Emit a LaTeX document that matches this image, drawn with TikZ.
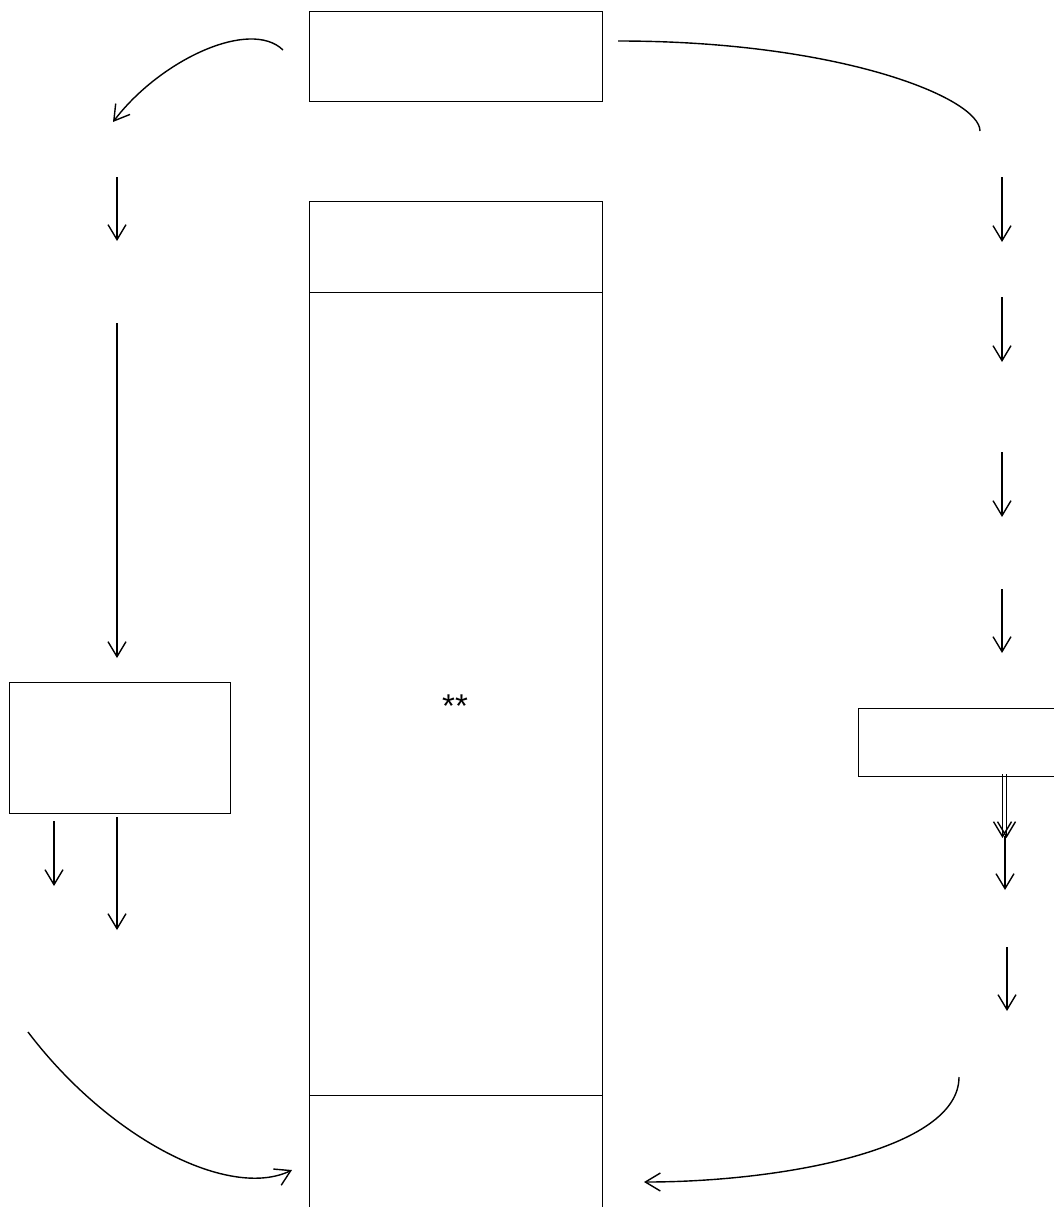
\documentclass[tikz,border=0pt]{standalone}
\usepackage{fontspec}
\setmainfont{Liberation Sans}
\usetikzlibrary{arrows.meta}
\begin{document}
\begin{tikzpicture}[x=1pt,y=-1pt,
  box/.style={draw,line width=1.4pt,rectangle,inner sep=0pt,anchor=north west},
  conn/.style={line width=1.4pt},
  arr/.style={conn,-{Straight Barb[length=15pt,width=18pt,line width=1.4pt]}}]
\useasboundingbox[fill=white] (0,0) rectangle (1053,1207);
% boxes
\node[box,minimum width=293pt,minimum height=90pt] (top) at (309,11) {};
\node[box,minimum width=293pt,minimum height=91pt] (ctop) at (309,201) {};
\node[box,minimum width=293pt,minimum height=803pt] (cmid) at (309,292) {};
\node[box,minimum width=293pt,minimum height=130pt] (cbot) at (309,1095) {};
\node[box,minimum width=221pt,minimum height=131pt] (lbox) at (9,682) {};
\node[box,minimum width=215pt,minimum height=68pt] (rbox) at (858,708) {};
\node[font=\fontsize{33}{36}\selectfont] (star) at (455,706) {**};
% free ends
\coordinate (tl0) at (283,50);  \coordinate (tl1) at (113,122);
\coordinate (tr0) at (618,41);  \coordinate (tr1) at (980,131);
\coordinate (l1a) at (117,177); \coordinate (l1b) at (117,241);
\coordinate (l2a) at (117,323); \coordinate (l2b) at (117,658);
\coordinate (l3a) at (54,821);  \coordinate (l3b) at (54,886);
\coordinate (l4a) at (117,817); \coordinate (l4b) at (117,930);
\coordinate (bl0) at (28,1032); \coordinate (bl1) at (292,1170);
\coordinate (r1a) at (1002,177); \coordinate (r1b) at (1002,242);
\coordinate (r2a) at (1002,297); \coordinate (r2b) at (1002,362);
\coordinate (r3a) at (1002,452); \coordinate (r3b) at (1002,517);
\coordinate (r4a) at (1002,589); \coordinate (r4b) at (1002,653);
\coordinate (r5a) at (1002.5,774); \coordinate (r5b) at (1002.5,838);
\coordinate (r6a) at (1006.5,774); \coordinate (r6b) at (1006.5,838);
\coordinate (r7a) at (1005,836); \coordinate (r7b) at (1005,890);
\coordinate (r8a) at (1007,947); \coordinate (r8b) at (1007,1011);
\coordinate (br0) at (959,1077); \coordinate (br1) at (644,1182);
% connectors
\draw[arr] (tl0) .. controls (250,18) and (160,60) .. (tl1);
\draw[conn] (tr0) .. controls (840,41) and (980,98) .. (tr1);
\draw[arr] (l1a) -- (l1b);
\draw[arr] (l2a) -- (l2b);
\draw[arr] (l3a) -- (l3b);
\draw[arr] (l4a) -- (l4b);
\draw[arr] (bl0) .. controls (110,1140) and (230,1200) .. (bl1);
\draw[arr] (r1a) -- (r1b);
\draw[arr] (r2a) -- (r2b);
\draw[arr] (r3a) -- (r3b);
\draw[arr] (r4a) -- (r4b);
\draw[arr] (r5a) -- (r5b);
\draw[arr] (r6a) -- (r6b);
\draw[arr] (r7a) -- (r7b);
\draw[arr] (r8a) -- (r8b);
\draw[arr] (br0) .. controls (959,1150) and (780,1182) .. (br1);
\end{tikzpicture}
\end{document}
